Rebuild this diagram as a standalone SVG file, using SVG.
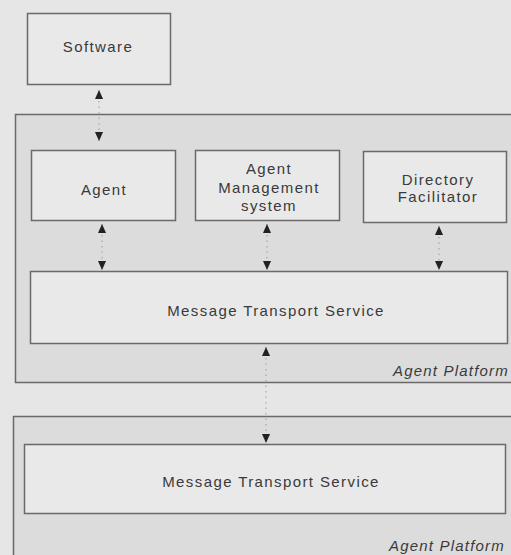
<svg xmlns="http://www.w3.org/2000/svg" width="511" height="555" viewBox="0 0 511 555">
<defs>
<style>
.platform{fill:#dcdcdc;stroke:#6a6a6a;stroke-width:1.5}
.box{fill:#e9e9e9;stroke:#6a6a6a;stroke-width:1.5}
.lbl{font-family:"Liberation Sans",Arial,sans-serif;font-size:15px;letter-spacing:1.4px;fill:#3a3a3a;text-anchor:middle}
.plab{font-family:"Liberation Sans",Arial,sans-serif;font-size:15px;letter-spacing:1.2px;font-style:italic;fill:#3a3a3a}
.conn{stroke:#9a9a9a;stroke-width:1;stroke-dasharray:1.5 4;fill:none}
</style>
<marker id="ah" viewBox="0 0 10 10" refX="10" refY="5" markerWidth="9" markerHeight="9" markerUnits="userSpaceOnUse" orient="auto-start-reverse">
<path d="M0,0.5 L10,5 L0,9.5 z" fill="#222"/>
</marker>
</defs>
<rect width="511" height="555" fill="#e6e6e6"/>
<g id="platform1">
<rect class="platform" x="15.5" y="114.5" width="510" height="268"/>
<text class="plab" x="393" y="376">Agent Platform</text>
</g>
<g id="platform2">
<rect class="platform" x="13.5" y="416.5" width="510" height="160"/>
<text class="plab" x="389" y="551">Agent Platform</text>
</g>
<g id="software">
<rect class="box" x="27.5" y="13.5" width="143" height="71"/>
<text class="lbl" x="98" y="52">Software</text>
</g>
<g id="agent">
<rect class="box" x="31.5" y="150.5" width="144" height="70"/>
<text class="lbl" x="104" y="195">Agent</text>
</g>
<g id="ams">
<rect class="box" x="195.5" y="150.5" width="144" height="70"/>
<text class="lbl" x="269" y="174">Agent</text>
<text class="lbl" x="269" y="193">Management</text>
<text class="lbl" x="269" y="211">system</text>
</g>
<g id="df">
<rect class="box" x="363.5" y="151.5" width="143" height="71"/>
<text class="lbl" x="438" y="185">Directory</text>
<text class="lbl" x="438" y="202">Facilitator</text>
</g>
<g id="mts1">
<rect class="box" x="30.5" y="271.5" width="477" height="72"/>
<text class="lbl" x="276" y="316">Message Transport Service</text>
</g>
<g id="mts2">
<rect class="box" x="24.5" y="444.5" width="481" height="69"/>
<text class="lbl" x="271" y="487">Message Transport Service</text>
</g>
<g id="connectors">
<line class="conn" x1="99" y1="90" x2="99" y2="141" marker-start="url(#ah)" marker-end="url(#ah)"/>
<line class="conn" x1="102" y1="224" x2="102" y2="270" marker-start="url(#ah)" marker-end="url(#ah)"/>
<line class="conn" x1="267" y1="224" x2="267" y2="270" marker-start="url(#ah)" marker-end="url(#ah)"/>
<line class="conn" x1="439" y1="226" x2="439" y2="270" marker-start="url(#ah)" marker-end="url(#ah)"/>
<line class="conn" x1="266" y1="347" x2="266" y2="443" marker-start="url(#ah)" marker-end="url(#ah)"/>
</g>
</svg>
